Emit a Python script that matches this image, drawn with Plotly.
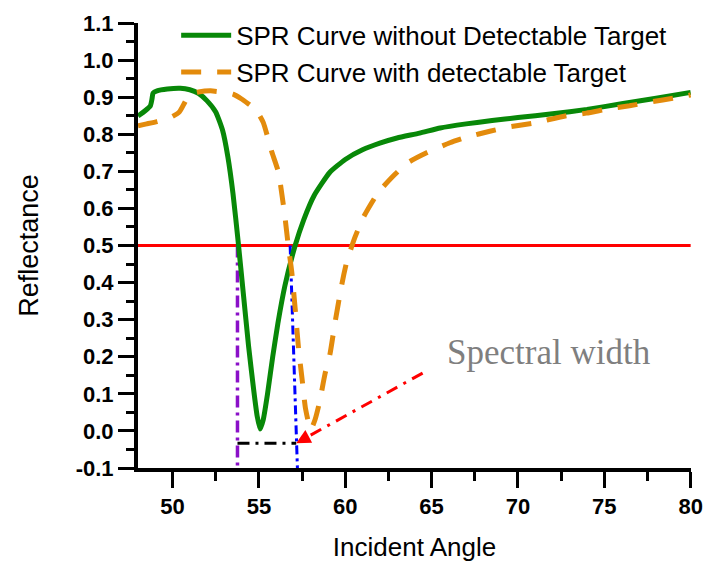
import plotly.graph_objects as go

# SPR reflectance curves (incident angle in degrees vs. reflectance)
angle_clean = [48.0, 48.43, 48.72, 48.81, 48.87, 49.1, 49.7, 50.45, 51.0, 51.5,
               52.0, 52.5, 52.9, 53.2, 53.5, 53.8, 54.1, 54.4, 54.7, 54.9,
               55.07, 55.25, 55.5, 55.8, 56.1, 56.5, 57.1, 57.6, 58.2, 59.1,
               60.0, 61.0, 62.0, 63.0, 64.3, 65.5, 67.0, 68.5, 70.0, 72.0,
               74.0, 76.0, 78.0, 80.0]
refl_clean = [0.849, 0.864, 0.877, 0.895, 0.911, 0.917, 0.922, 0.924, 0.92, 0.91,
              0.89, 0.86, 0.81, 0.74, 0.64, 0.51, 0.37, 0.23, 0.11, 0.04,
              0.005, 0.03, 0.10, 0.20, 0.29, 0.39, 0.50, 0.57, 0.635, 0.697,
              0.732, 0.758, 0.776, 0.790, 0.803, 0.817, 0.828, 0.837, 0.845, 0.855,
              0.867, 0.882, 0.897, 0.913]

angle_target = [48.0, 48.5, 49.1, 49.6, 50.0, 50.41, 50.7, 50.99, 51.5, 52.2,
                53.0, 53.5, 54.0, 54.5, 54.8, 55.25, 55.75, 56.13, 56.5, 56.7,
                56.9, 57.1, 57.3, 57.5, 57.7, 58.0, 58.25, 58.5, 58.83, 59.12,
                59.4, 59.8, 60.09, 60.57, 61.05, 61.91, 62.88, 63.65, 64.71, 66.06,
                67.1, 68.37, 69.53, 70.87, 72.8, 73.96, 75.3, 76.46, 77.8, 78.97,
                80.0]
refl_target = [0.823, 0.828, 0.834, 0.841, 0.848, 0.861, 0.885, 0.908, 0.914, 0.917,
               0.913, 0.908, 0.895, 0.878, 0.868, 0.832, 0.752, 0.698, 0.58, 0.50,
               0.43, 0.33, 0.22, 0.14, 0.06, 0.003, 0.03, 0.075, 0.154, 0.208,
               0.29, 0.395, 0.457, 0.523, 0.576, 0.643, 0.692, 0.724, 0.75, 0.777,
               0.793, 0.808, 0.82, 0.83, 0.85, 0.857, 0.869, 0.877, 0.888, 0.897,
               0.906]

# Half-maximum level and spectral-width construction
half_level = 0.5
left_edge_x = [53.76, 53.76]
left_edge_y = [0.5, -0.1]
right_edge_x = [56.81, 57.23]
right_edge_y = [0.5, -0.1]
width_bar_x = [53.76, 57.16]
width_bar_y = [-0.033, -0.033]
pointer_x = [64.48, 57.16]
pointer_y = [0.156, -0.033]
note_pos = (71.8, 0.212)

x_range = [48.0, 80.02]
y_range = [-0.1, 1.1]
x_tick_vals = [50, 55, 60, 65, 70, 75, 80]
x_tick_text = ["50", "55", "60", "65", "70", "75", "80"]
y_tick_vals = [-0.1, 0.0, 0.1, 0.2, 0.3, 0.4, 0.5, 0.6, 0.7, 0.8, 0.9, 1.0, 1.1]
y_tick_text = ["-0.1", "0.0", "0.1", "0.2", "0.3", "0.4", "0.5", "0.6",
               "0.7", "0.8", "0.9", "1.0", "1.1"]

SANS = "Arial, Liberation Sans, sans-serif"

fig = go.Figure()

fig.add_trace(go.Scatter(
    x=[x_range[0], 80.0], y=[half_level, half_level], mode="lines",
    line=dict(color="#ff0000", width=3), showlegend=False, hoverinfo="skip"))

fig.add_trace(go.Scatter(
    x=left_edge_x, y=left_edge_y, mode="lines",
    line=dict(color="#8a10c8", width=3.5, dash="12px,5px,3px,5px"),
    showlegend=False, cliponaxis=False))
fig.add_trace(go.Scatter(
    x=right_edge_x, y=right_edge_y, mode="lines",
    line=dict(color="#0000ff", width=3, dash="9px,4px,3px,4px"),
    showlegend=False, cliponaxis=False))
fig.add_trace(go.Scatter(
    x=width_bar_x, y=width_bar_y, mode="lines",
    line=dict(color="#000000", width=3, dash="12px,6px,3px,6px"),
    showlegend=False))
fig.add_trace(go.Scatter(
    x=pointer_x, y=pointer_y, mode="lines",
    line=dict(color="#ff0000", width=3, dash="12px,7px,3px,7px"),
    showlegend=False))

fig.add_trace(go.Scatter(
    x=angle_clean, y=refl_clean, mode="lines",
    name="SPR Curve without Detectable Target",
    line=dict(color="#088808", width=5, shape="spline", smoothing=0.5)))
fig.add_trace(go.Scatter(
    x=angle_target, y=refl_target, mode="lines",
    name="SPR Curve with detectable Target",
    line=dict(color="#e38b0c", width=5, dash="20px,16px", shape="spline", smoothing=0.5)))

# arrowhead on the pointer
fig.add_annotation(
    x=pointer_x[1], y=pointer_y[1], ax=13, ay=-7, axref="pixel", ayref="pixel",
    showarrow=True, arrowhead=2, arrowsize=0.95, arrowwidth=3, arrowcolor="#ff0000",
    text="")

fig.add_annotation(
    x=note_pos[0], y=note_pos[1], text="Spectral width", showarrow=False,
    font=dict(family="Liberation Serif, Times New Roman, serif", size=35, color="#7f7f7f"))

axis_common = dict(
    showline=True, linecolor="black", linewidth=4, mirror=False,
    showgrid=False, zeroline=False, automargin=False,
    ticks="outside", ticklen=16, tickwidth=3, tickcolor="black",
    tickfont=dict(family=SANS, size=22, color="black", weight="bold"),
)

fig.update_xaxes(
    range=x_range, tickmode="array", tickvals=x_tick_vals, ticktext=x_tick_text,
    minor=dict(tick0=47.5, dtick=2.5, ticklen=9, tickwidth=3, tickcolor="black", ticks="outside"),
    title=dict(text="Incident Angle", font=dict(family=SANS, size=26, color="black"), standoff=20),
    **axis_common)
fig.update_yaxes(
    range=y_range, tickmode="array", tickvals=y_tick_vals, ticktext=y_tick_text,
    minor=dict(tick0=-0.1, dtick=0.05, ticklen=8, tickwidth=3, tickcolor="black", ticks="outside"),
    title=dict(text="Reflectance", font=dict(family=SANS, size=27, color="black"), standoff=30),
    **axis_common)

fig.update_layout(
    width=703, height=570,
    margin=dict(l=138, r=12, t=20, b=102),
    plot_bgcolor="white", paper_bgcolor="white",
    legend=dict(x=0.069, y=1.025, xanchor="left", yanchor="top",
                bgcolor="rgba(0,0,0,0)", itemwidth=50,
                font=dict(family=SANS, size=26, color="black"),
                tracegroupgap=0),
    showlegend=True,
)

fig.write_html("out.html")
